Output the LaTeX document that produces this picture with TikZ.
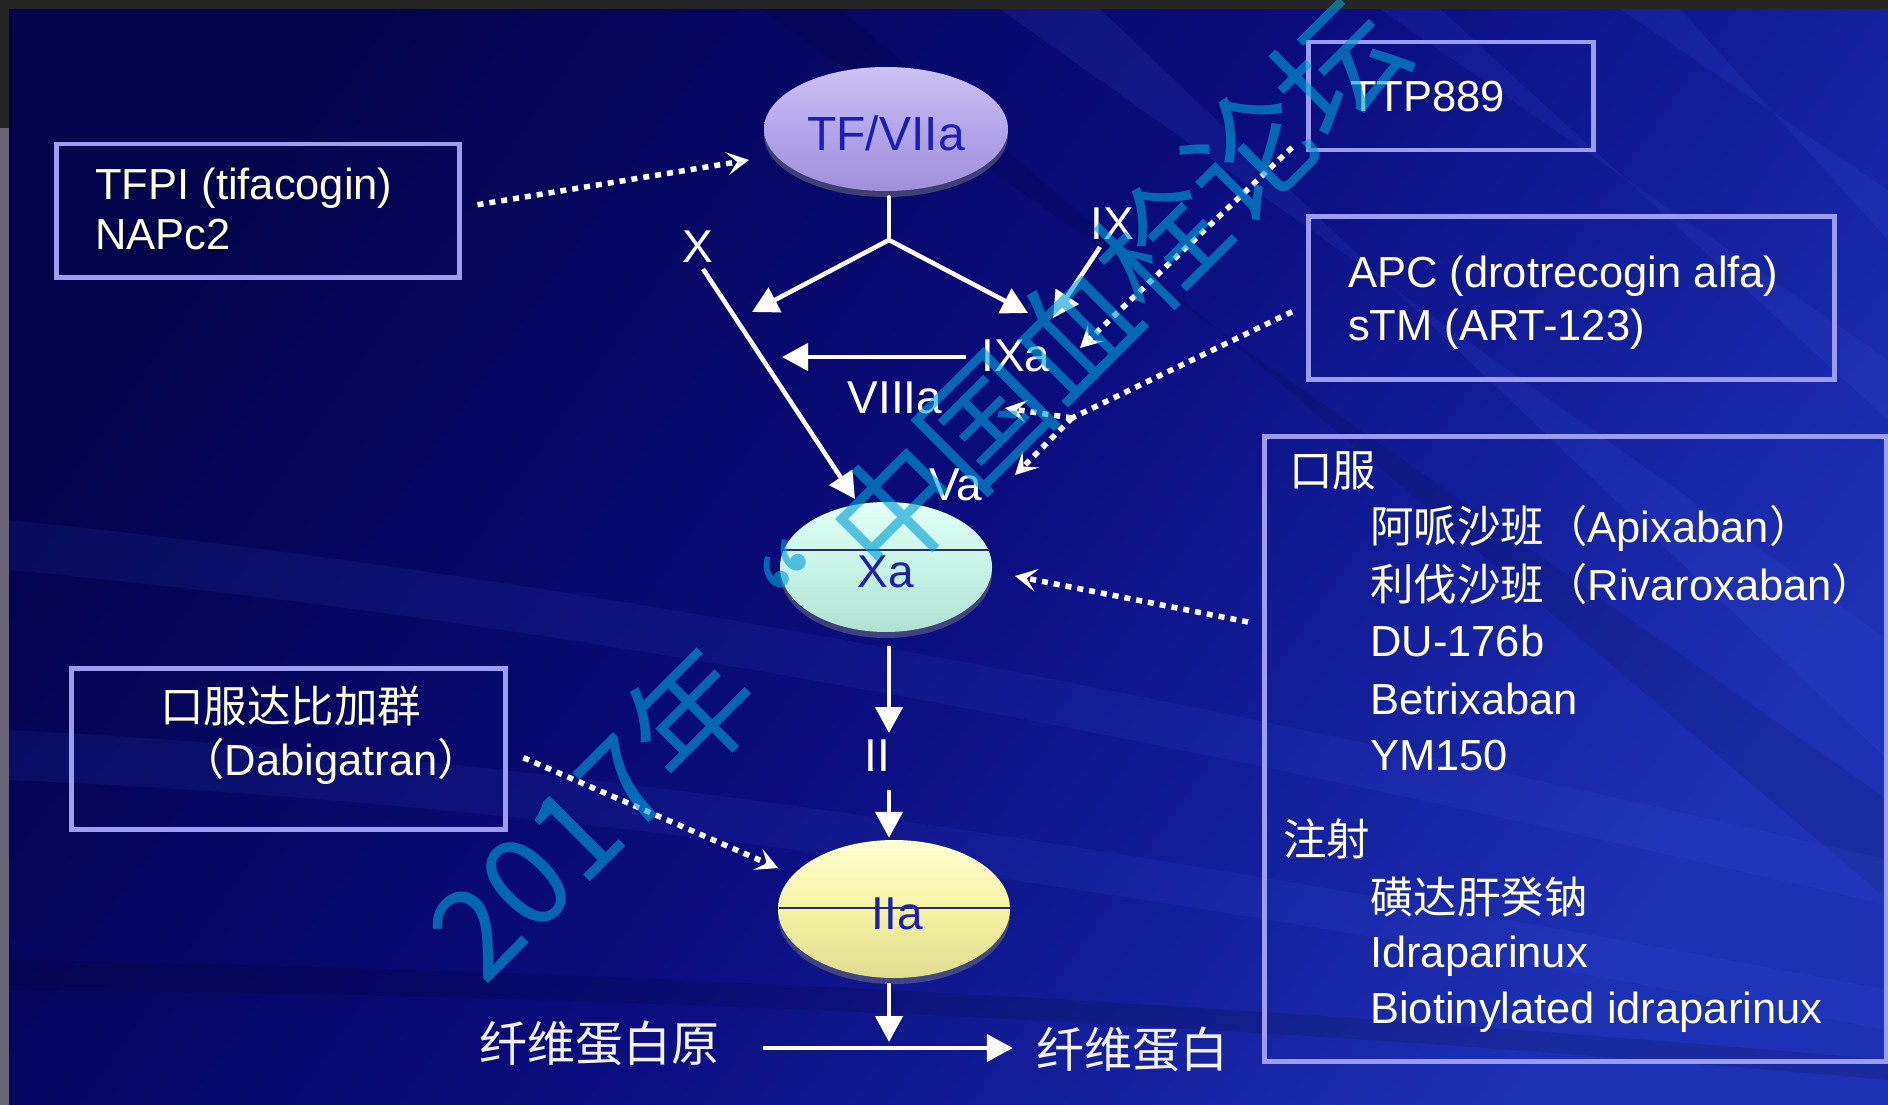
\documentclass[tikz,border=0pt]{standalone}
\usepackage{fontspec}
\setmainfont{Liberation Sans}
\newfontfamily\cjk{Noto Sans CJK SC}
\usetikzlibrary{arrows.meta,shapes.geometric,shadows,calc}
\definecolor{bgtop}{HTML}{03034C}
\definecolor{bgmid}{HTML}{0A0C7E}
\definecolor{bgbot}{HTML}{1C30B4}
\definecolor{panelline}{HTML}{9C9CF0}
\definecolor{cream}{HTML}{FFFFE4}
\definecolor{wmark}{HTML}{00A0D8}
\definecolor{ovaltext}{HTML}{1E1EB4}
\definecolor{lavtop}{HTML}{CCC2F4}
\definecolor{lavmid}{HTML}{B4A6EA}
\definecolor{lavbot}{HTML}{A090DC}
\definecolor{minttop}{HTML}{E2FFF5}
\definecolor{mintmid}{HTML}{C6F4E6}
\definecolor{mintbot}{HTML}{B0E2D2}
\definecolor{yeltop}{HTML}{FFFFD2}
\definecolor{yelmid}{HTML}{F5F3A4}
\definecolor{yelbot}{HTML}{E0DC90}
\definecolor{streak}{HTML}{4060E8}
\definecolor{barcol}{HTML}{262626}
\definecolor{edgecol}{HTML}{6A6478}
\definecolor{seam}{HTML}{2A2A78}
\newcommand\zh[1]{{\cjk #1}}
\begin{document}
\begin{tikzpicture}[x=1pt,y=-1pt,
 lbl/.style={text=white,inner sep=0pt,font=\fontsize{46}{50}\selectfont},
 boxtxt/.style={text=cream,inner sep=0pt,anchor=base west,font=\fontsize{43.5}{50}\selectfont},
 panel/.style={draw=panelline,line width=4.5pt,inner sep=0pt,anchor=north west},
 oval/.style={ellipse,inner sep=0pt,text=ovaltext,font=\fontsize{46}{50}\selectfont,
   text height=41pt,text depth=0pt,
   drop shadow={opacity=0.45,shadow xshift=0pt,shadow yshift=-6pt}},
 flow/.style={draw=white,line width=4.5pt,-{Triangle[length=26pt,width=27pt]}},
 plain/.style={draw=white,line width=4.5pt,line cap=round},
 dots/.style={draw=white,line width=5.5pt,dash pattern=on 6pt off 6pt},
 inhib/.style={dots,-{Stealth[length=22pt,width=23pt,inset=10pt]}},
 cjklbl/.style={text=white!95!black,inner sep=0pt,font=\cjk\fontsize{48}{50}\selectfont}
]
\useasboundingbox (0,0) rectangle (1888,1105);
% background
\shade[top color=bgtop,bottom color=bgbot,middle color=bgmid,shading angle=55] (0,0) rectangle (1888,1105);
\fill[streak,opacity=0.13] (1000,9) -- (1100,9) -- (1888,760) -- (1888,640) -- cycle;
\fill[streak,opacity=0.12] (1380,9) -- (1440,9) -- (1888,420) -- (1888,360) -- cycle;
\fill[streak,opacity=0.12] (1620,9) -- (1680,9) -- (1888,240) -- (1888,190) -- cycle;
\fill[black,opacity=0.10] (760,9) -- (840,9) -- (1888,900) -- (1888,800) -- cycle;
\fill[streak,opacity=0.10] (9,520) .. controls (600,580) and (1200,700) .. (1888,860) -- (1888,905) .. controls (1200,745) and (600,625) .. (9,570) -- cycle;
\fill[streak,opacity=0.10] (9,730) .. controls (600,760) and (1200,860) .. (1888,990) -- (1888,1030) .. controls (1200,900) and (600,805) .. (9,780) -- cycle;
\fill[black,opacity=0.12] (9,960) .. controls (600,970) and (1200,1000) .. (1888,1060) -- (1888,1080) .. controls (1200,1020) and (600,995) .. (9,990) -- cycle;
\fill[barcol] (0,0) rectangle (1888,9);
\fill[barcol] (0,0) rectangle (9,128);
\fill[edgecol] (0,128) rectangle (9,1105);

% panels
\node[panel,minimum width=403pt,minimum height=133pt] (tfpi) at (54,142) {};
\node[panel,minimum width=285pt,minimum height=108pt] (ttp) at (1306,40) {};
\node[panel,minimum width=526pt,minimum height=163pt] (apc) at (1306,214) {};
\node[panel,minimum width=622pt,minimum height=625pt] (oral) at (1262,434) {};
\node[panel,minimum width=434pt,minimum height=161pt] (dabi) at (69,666) {};

\node[boxtxt] (tfpiA) at (95,200) {TFPI (tifacogin)};
\node[boxtxt] (tfpiB) at (95,249) {NAPc2};
\node[boxtxt] (ttpA) at (1350,112) {TTP889};
\node[boxtxt] (apcA) at (1348,287) {APC (drotrecogin alfa)};
\node[boxtxt] (apcL) at (1348,340) {sTM (ART-123)};
\node[boxtxt] (dabA) at (160,722) {\zh{口服达比加群}};
\node[boxtxt] (dabB) at (181,775) {\zh{（}Dabigatran\zh{）}};
\node[boxtxt] (oral1) at (1289,486) {\zh{口服}};
\node[boxtxt] (oral2) at (1370,542) {\zh{阿哌沙班（}Apixaban\zh{）}};
\node[boxtxt] (oral3) at (1370,600) {\zh{利伐沙班（}Rivaroxaban\zh{）}};
\node[boxtxt] (oral4) at (1370,656) {DU-176b};
\node[boxtxt] (oral5) at (1370,714) {Betrixaban};
\node[boxtxt] (oral6) at (1370,770) {YM150};
\node[boxtxt] (oral7) at (1283,855) {\zh{注射}};
\node[boxtxt] (oral8) at (1370,913) {\zh{磺达肝癸钠}};
\node[boxtxt] (oral9) at (1370,967) {Idraparinux};
\node[boxtxt] (oral10) at (1370,1023) {Biotinylated idraparinux};

% factor ovals
\node[oval,minimum width=244pt,minimum height=124pt,top color=lavtop,bottom color=lavbot,middle color=lavmid,font=\fontsize{48}{50}\selectfont,text height=42pt] (tf) at (886,129) {TF/VIIa};
\node[oval,minimum width=212pt,minimum height=130pt,top color=minttop,bottom color=mintbot,middle color=mintmid] (xa) at (886,567) {Xa};
\node[oval,minimum width=232pt,minimum height=138pt,top color=yeltop,bottom color=yelbot,middle color=yelmid] (iia) at (894,909) {\hspace{6pt}IIa};
\draw[seam,line width=1.2pt] (783,550) -- (990,550);
\draw[seam,line width=1.2pt] (779,908) -- (1010,908);

% labels
\node[lbl] (lX) at (698,247) {X};
\node[lbl] (lIX) at (1112,224) {IX};
\node[lbl] (lIXa) at (1016,356) {IXa};
\node[lbl] (lVIIIa) at (895,398) {VIIIa};
\node[lbl] (lVa) at (956,485) {Va};
\node[lbl] (lII) at (877,756) {II};
\node[cjklbl] (fgn) at (599,1043) {纤维蛋白原};
\node[cjklbl] (fbn) at (1132,1049) {纤维蛋白};

% solid cascade arrows
\coordinate (stemtop) at ($(tf.south)+(3,6)$);
\coordinate (fork) at (889,240);
\coordinate (forkL) at (752,312);
\coordinate (forkR) at (1028,313);
\draw[plain] (stemtop) -- (fork);
\draw[flow] (fork) -- (forkL);
\draw[flow] (fork) -- (forkR);
\coordinate (ixS) at ($(lIX.south)+(-12,7)$);
\coordinate (ixT) at (1053,318);
\draw[flow] (ixS) -- (ixT);
\coordinate (ixaS) at ($(lIXa.west)+(-15,1)$);
\coordinate (ixaT) at (782,357);
\draw[flow] (ixaS) -- (ixaT);
\coordinate (xS) at ($(lX.south)+(5,6)$);
\coordinate (xT) at (855,499);
\draw[flow] (xS) -- (xT);
\coordinate (xaOut) at ($(xa.south)+(3,14)$);
\coordinate (iiIn) at (889,733);
\draw[flow] (xaOut) -- (iiIn);
\coordinate (iiOut) at (889,790);
\coordinate (iiaIn) at ($(iia.north)+(-5,-2)$);
\draw[flow] (iiOut) -- (iiaIn);
\coordinate (iiaOut) at ($(iia.south)+(-5,5)$);
\coordinate (fibT) at (889,1042);
\draw[flow] (iiaOut) -- (fibT);
\draw[flow] ($(fgn.east)+(44,5)$) -- ($(fbn.west)+(-23,-1)$);

% inhibitor (dotted) arrows
\coordinate (tfT) at (749,160);
\draw[inhib] ($(tfpi.east)+(16,-6)$) -- (tfT);
\coordinate (ttpT) at (1080,348);
\draw[inhib] ($(ttp.south west)+(-14,-5)$) -- (ttpT);
\coordinate (apcS) at ($(apc.west)+(-14,14)$);
\coordinate (apcFork) at (1072,418);
\coordinate (viiiT) at (1005,408);
\coordinate (vaT) at (1015,475);
\draw[dots] (apcS) -- (apcFork);
\draw[inhib] (apcFork) -- (viiiT);
\draw[inhib] (apcFork) -- (vaT);
\coordinate (xaT) at (1015,576);
\draw[inhib] ($(oral.north west)+(-14,188)$) -- (xaT);
\coordinate (iiaT) at (778,868);
\draw[inhib] ($(dabi.east)+(16,9)$) -- (iiaT);

% watermark
\node[rotate=45,text=wmark,text opacity=0.62,inner sep=0pt,font=\cjk\fontsize{125}{125}\selectfont] (wmk) at (916,488) {2017年\hspace{8pt}“\hspace{32pt}中国血栓论坛};
\end{tikzpicture}
\end{document}
